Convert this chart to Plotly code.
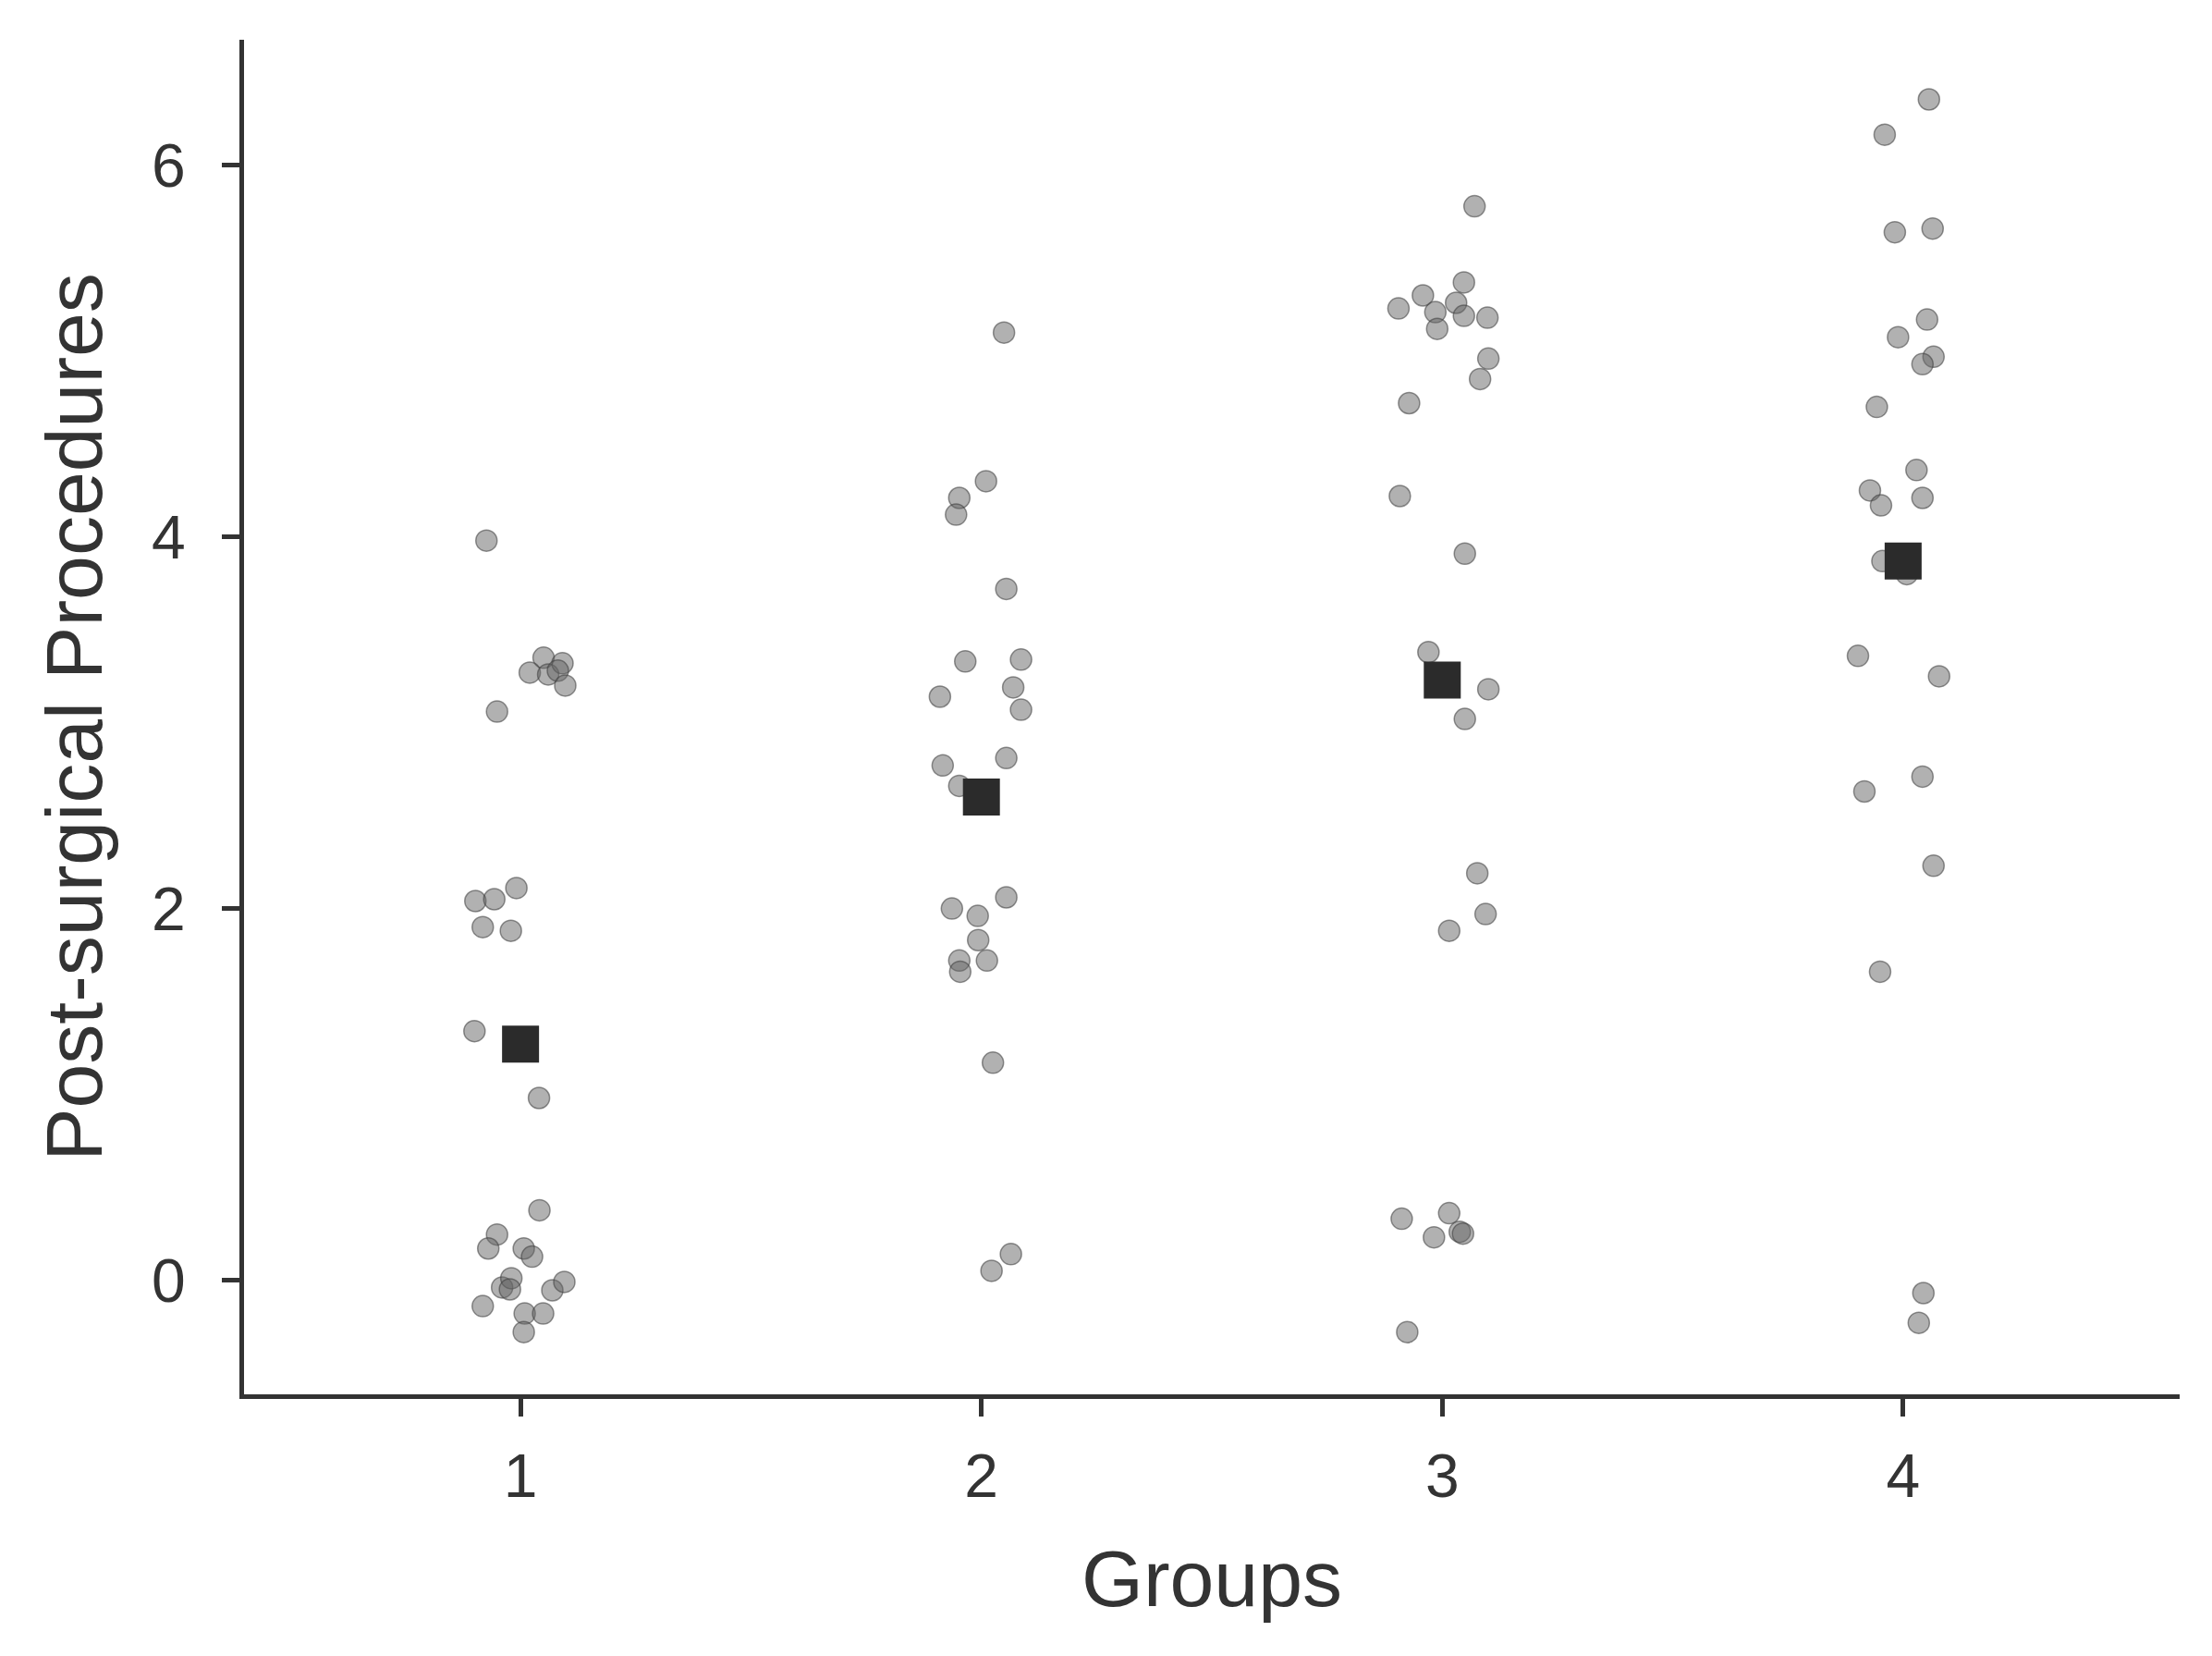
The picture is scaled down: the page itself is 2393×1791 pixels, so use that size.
import plotly.graph_objects as go

# ---- data (jittered x positions, values) ----
g1_x = [0.926, 1.050, 1.020, 1.060, 1.091, 1.081, 1.097, 0.949, 0.902, 0.943,
        0.991, 0.918, 0.979, 0.900, 1.040, 1.041, 0.949, 0.930, 1.007, 1.025,
        0.960, 0.980, 0.977, 1.069, 1.095, 0.918, 1.009, 1.049, 1.007]
g1_y = [3.98, 3.35, 3.27, 3.26, 3.32, 3.28, 3.20, 3.06, 2.04, 2.05,
        2.11, 1.90, 1.88, 1.34, 0.98, 0.376, 0.245, 0.17, 0.17, 0.126,
        -0.04, 0.01, -0.05, -0.055, -0.01, -0.14, -0.18, -0.18, -0.28]

g2_x = [2.049, 2.010, 1.952, 1.945, 2.054, 1.965, 2.086, 1.910, 2.069, 2.086,
        1.916, 2.054, 1.952, 1.936, 1.992, 2.054, 1.993, 2.012, 1.952, 1.954,
        2.025, 2.064, 2.022]
g2_y = [5.10, 4.30, 4.21, 4.12, 3.72, 3.33, 3.34, 3.14, 3.19, 3.07,
        2.77, 2.81, 2.66, 2.00, 1.96, 2.06, 1.83, 1.72, 1.72, 1.66,
        1.17, 0.14, 0.05]

g3_x = [3.070, 3.047, 2.958, 2.905, 2.985, 3.030, 3.047, 3.098, 2.989, 3.100,
        3.082, 2.928, 2.908, 3.049, 2.970, 3.100, 3.049, 3.076, 3.094, 3.015,
        2.912, 3.015, 2.982, 3.038, 3.045, 2.924]
g3_y = [5.78, 5.37, 5.30, 5.23, 5.21, 5.26, 5.19, 5.18, 5.12, 4.96,
        4.85, 4.72, 4.22, 3.91, 3.38, 3.18, 3.02, 2.19, 1.97, 1.88,
        0.33, 0.36, 0.23, 0.26, 0.25, -0.28]

g4_x = [4.056, 3.960, 3.982, 4.064, 4.052, 3.989, 4.066, 4.042, 3.943, 4.029,
        4.042, 3.928, 3.952, 3.955, 4.008, 3.902, 4.078, 4.042, 3.916, 4.066,
        3.950, 4.044, 4.034]
g4_y = [6.355, 6.165, 5.64, 5.66, 5.17, 5.075, 4.97, 4.93, 4.70, 4.36,
        4.21, 4.25, 4.17, 3.87, 3.80, 3.36, 3.25, 2.71, 2.63, 2.23,
        1.66, -0.07, -0.23]

groups = [1, 2, 3, 4]
group_means = [1.27, 2.60, 3.23, 3.87]
x_tick_labels = ["1", "2", "3", "4"]
y_tick_vals = [0, 2, 4, 6]

FONT = "Liberation Sans, Arial, Helvetica, sans-serif"
INK = "#333333"

fig = go.Figure()
for xs, ys in [(g1_x, g1_y), (g2_x, g2_y), (g3_x, g3_y), (g4_x, g4_y)]:
    fig.add_trace(go.Scatter(
        x=xs, y=ys, mode="markers", showlegend=False,
        marker=dict(symbol="circle", size=23,
                    color="rgba(100,100,100,0.5)",
                    line=dict(color="rgba(60,60,60,0.55)", width=1.5)),
    ))

fig.add_trace(go.Scatter(
    x=groups, y=group_means, mode="markers", showlegend=False,
    marker=dict(symbol="square", size=40, color="#2b2b2b",
                line=dict(color="#2b2b2b", width=0)),
))

fig.update_layout(
    width=2393, height=1791,
    margin=dict(l=256, r=43, t=35, b=291),
    paper_bgcolor="white", plot_bgcolor="white",
    font=dict(family=FONT, color=INK),
    xaxis=dict(
        range=[0.4, 4.6], tickvals=groups, ticktext=x_tick_labels,
        showgrid=False, zeroline=False,
        showline=True, linecolor=INK, linewidth=5,
        ticks="outside", ticklen=19, tickwidth=5, tickcolor=INK,
        tickfont=dict(size=66, color=INK, family=FONT),
        ticklabelstandoff=8,
        title=dict(text="Groups", font=dict(size=86, color=INK, family=FONT),
                   standoff=46),
    ),
    yaxis=dict(
        range=[-0.615, 6.676], tickvals=y_tick_vals,
        showgrid=False, zeroline=False,
        showline=True, linecolor=INK, linewidth=5,
        ticks="outside", ticklen=19, tickwidth=5, tickcolor=INK,
        tickfont=dict(size=66, color=INK, family=FONT),
        ticklabelstandoff=26,
        title=dict(text="Post-surgical Procedures",
                   font=dict(size=86, color=INK, family=FONT), standoff=26),
    ),
)

fig.write_html("out.html")
